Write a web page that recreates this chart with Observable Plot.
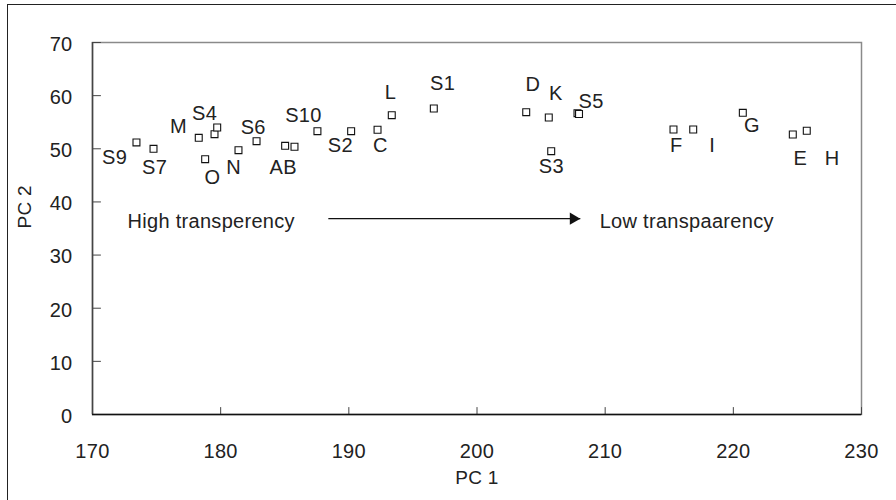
<!DOCTYPE html>
<html>
<head>
<meta charset="utf-8">
<script src="https://cdn.jsdelivr.net/npm/d3@7"></script>
<script src="https://cdn.jsdelivr.net/npm/@observablehq/plot@0.6"></script>
<style>
  html, body { margin: 0; padding: 0; background: #fff; }
  #wrap { position: relative; width: 896px; height: 500px; overflow: hidden; }
  #border { position: absolute; left: 7px; top: 4px; width: 900px; height: 510px;
            border-left: 1.5px solid #222; border-top: 1.5px solid #222; pointer-events: none; }
  #chart { position: absolute; left: 0; top: 0; }
  #chart svg text { letter-spacing: 0.3px; }
</style>
</head>
<body>
<div id="wrap"><div id="chart"></div><div id="border"></div></div>
<script>
// Sample points (PC 1, PC 2)
const pointPC1 = [173.43, 174.76, 178.29, 178.79, 179.52, 179.73, 181.39, 182.80, 185.03, 185.76,
                  187.55, 190.18, 192.24, 193.35, 196.63, 203.84, 205.60, 207.84, 207.96, 205.79,
                  215.33, 216.87, 220.74, 224.64, 225.73];
const pointPC2 = [51.19, 50.00, 52.07, 48.04, 52.75, 54.01, 49.74, 51.43, 50.56, 50.38,
                  53.31, 53.31, 53.58, 56.32, 57.58, 56.89, 55.89, 56.70, 56.55, 49.55,
                  53.63, 53.63, 56.77, 52.69, 53.39];

// Sample labels and where they sit
const labelText = ["S9", "S7", "M", "O", "S4", "N", "S6", "AB", "S10", "S2", "C",
                   "L", "S1", "D", "K", "S5", "S3", "F", "I", "G", "E", "H"];
const labelPC1 = [171.72, 174.84, 176.71, 179.36, 178.74, 181.02, 182.54, 184.88, 186.46, 189.34, 192.46,
                  193.24, 197.32, 204.35, 206.14, 208.90, 205.80, 215.55, 218.34, 221.46, 225.23, 227.70];
const labelPC2 = [48.4, 46.5, 54.1, 44.6, 56.6, 46.5, 54.0, 46.5, 56.3, 50.6, 50.6,
                  60.5, 62.2, 62.1, 60.4, 58.8, 46.7, 50.6, 50.6, 54.3, 48.2, 48.2];

// Annotation arrow and texts
const arrowPC1 = [188.4, 208.06];
const arrowPC2 = 36.85;
const noteText = ["High transperency", "Low transpaarency"];
const notePC1 = [172.73, 209.57];
const notePC2 = [36.3, 36.3];

// Axes
const xTicks = [170, 180, 190, 200, 210, 220, 230];
const yTicks = [0, 10, 20, 30, 40, 50, 60, 70];
const xLabel = "PC 1";
const yLabel = "PC 2";

const points = pointPC1.map((x, i) => ({x, y: pointPC2[i]}));
const labels = labelText.map((t, i) => ({t, x: labelPC1[i], y: labelPC2[i]}));
const notes = noteText.map((t, i) => ({t, x: notePC1[i], y: notePC2[i]}));

const FONT = "'Liberation Sans', Arial, sans-serif";
const FS = 20;
const tickShape = {draw(context, l) { context.moveTo(0, 0); context.lineTo(0, -l); }};

const chart = Plot.plot({
  width: 896,
  height: 500,
  marginLeft: 92,
  marginRight: 35,
  marginTop: 42,
  marginBottom: 86,
  style: {fontFamily: FONT, fontSize: FS + "px", color: "#222", background: "transparent"},
  x: {domain: [170, 230], label: null},
  y: {domain: [0, 70], label: null},
  marks: [
    Plot.frame({stroke: "#8a8a8a", strokeWidth: 1.5}),
    Plot.axisX({ticks: xTicks, tickSize: 0, tickPadding: 29, fontSize: FS, fill: "#222", label: null}),
    Plot.axisY({ticks: yTicks, tickSize: 0, tickPadding: 20, fontSize: FS, fill: "#222", dy: 2, label: null}),
    Plot.vector(xTicks, {x: d => d, y: 0, length: 7, rotate: 0, anchor: "start", shape: tickShape, stroke: "#444", strokeWidth: 1}),
    Plot.vector(yTicks, {x: 170, y: d => d, length: 8, rotate: 90, anchor: "start", shape: tickShape, stroke: "#444", strokeWidth: 1}),
    Plot.ruleX([170], {stroke: "#444", strokeWidth: 1.5}),
    Plot.ruleY([0], {stroke: "#111", strokeWidth: 1.5}),
    Plot.text([xLabel], {frameAnchor: "bottom", dy: 69, fontSize: FS - 1, fill: "#222"}),
    Plot.text([yLabel], {frameAnchor: "left", dx: -68, rotate: -90, fontSize: FS - 1, fill: "#222"}),
    Plot.dot(points, {x: "x", y: "y", symbol: "square", r: 3.9, stroke: "#111", strokeWidth: 1.1, fill: "white"}),
    Plot.text(labels, {x: "x", y: "y", text: "t", fontSize: FS, fill: "#222"}),
    Plot.link([0], {x1: arrowPC1[0], x2: arrowPC1[1], y1: arrowPC2, y2: arrowPC2, stroke: "#111", strokeWidth: 1.3}),
    Plot.dot([0], {x: arrowPC1[1], y: arrowPC2, symbol: "triangle", rotate: 90, r: 4.5, fill: "#111", stroke: "none", dx: -7}),
    Plot.text(notes, {x: "x", y: "y", text: "t", textAnchor: "start", fontSize: FS, fill: "#222"})
  ]
});
document.getElementById("chart").appendChild(chart);
</script>
</body>
</html>
